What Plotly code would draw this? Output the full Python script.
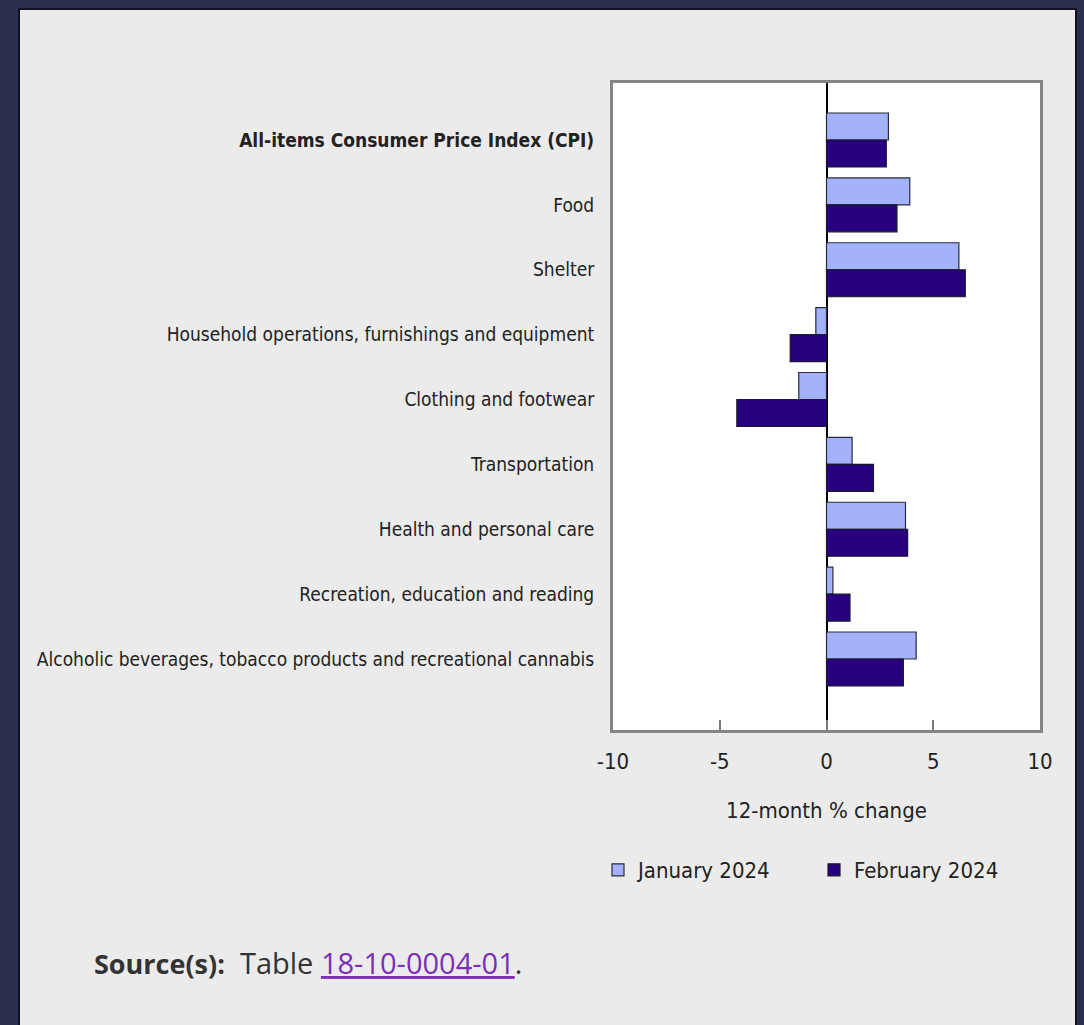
import plotly.graph_objects as go

categories = [
    "All-items Consumer Price Index (CPI)",
    "Food",
    "Shelter",
    "Household operations, furnishings and equipment",
    "Clothing and footwear",
    "Transportation",
    "Health and personal care",
    "Recreation, education and reading",
    "Alcoholic beverages, tobacco products and recreational cannabis",
]
tick_labels = ["<b>All-items Consumer Price Index (CPI)</b>"] + categories[1:]
jan_2024 = [2.9, 3.9, 6.2, -0.5, -1.3, 1.2, 3.7, 0.3, 4.2]
feb_2024 = [2.8, 3.3, 6.5, -1.7, -4.2, 2.2, 3.8, 1.1, 3.6]
x_ticks = [-10, -5, 0, 5, 10]

W, H = 1084, 1025
LABEL_FONT = "DejaVu Sans Condensed, DejaVu Sans, Verdana, sans-serif"
FS = 19
FS2 = 22

fig = go.Figure()
fig.add_trace(go.Bar(
    y=categories, x=jan_2024, orientation="h", name="January 2024",
    marker=dict(color="#a3b2fb", line=dict(color="#2b2b3b", width=1.2)),
))
fig.add_trace(go.Bar(
    y=categories, x=feb_2024, orientation="h", name="February 2024",
    marker=dict(color="#26007e", line=dict(color="#1a1a2a", width=1.2)),
))

# plot area in pixels
px_l, px_r, py_t, py_b = 613, 1040, 83, 730
cat_top, cat_bot = 140, 659
step = (cat_bot - cat_top) / 8
r_top = -(cat_top - py_t) / step
r_bot = 8 + (py_b - cat_bot) / step

fig.update_layout(
    width=W, height=H,
    margin=dict(l=0, r=0, t=0, b=0, autoexpand=False),
    paper_bgcolor="#2c2f4c",
    plot_bgcolor="white",
    barmode="group",
    bargap=0.168,
    bargroupgap=0,
    font=dict(family=LABEL_FONT, size=FS, color="#222222"),
    showlegend=True,
    legend=dict(
        orientation="h", x=598 / W, y=1 - 870 / H, xanchor="left", yanchor="middle",
        bgcolor="rgba(0,0,0,0)", font=dict(size=FS2, family=LABEL_FONT, color="#222222"),
        entrywidth=171, entrywidthmode="pixels", traceorder="normal",
    ),
    xaxis=dict(
        domain=[px_l / W, px_r / W],
        range=[-10, 10],
        tickvals=x_ticks,
        ticktext=[str(v) for v in x_ticks],
        ticks="inside", ticklen=10, tickwidth=2, tickcolor="#7a7a7a",
        showline=True, mirror=True, linecolor="#858585", linewidth=3,
        showgrid=False,
        zeroline=True, zerolinecolor="#000000", zerolinewidth=1.5,
        tickfont=dict(size=FS2, family=LABEL_FONT, color="#222222"),
        ticklabelstandoff=10,
        title=dict(text="12-month % change", standoff=30,
                   font=dict(size=FS2, family=LABEL_FONT, color="#222222")),
        automargin=False,
        fixedrange=True,
    ),
    yaxis=dict(
        domain=[1 - py_b / H, 1 - py_t / H],
        type="category",
        categoryorder="array", categoryarray=categories,
        tickvals=categories, ticktext=tick_labels,
        range=[r_bot, r_top],
        ticks="", showline=True, mirror=True, linecolor="#858585", linewidth=3,
        showgrid=False, zeroline=False,
        tickfont=dict(size=FS, family=LABEL_FONT, color="#222222"),
        ticklabelstandoff=12,
        automargin=False,
        fixedrange=True,
    ),
    shapes=[
        dict(type="rect", xref="paper", yref="paper", x0=18 / W, x1=1077 / W, y0=0, y1=1 - 8 / H,
             fillcolor="#111122", line=dict(width=0), layer="below"),
        dict(type="rect", xref="paper", yref="paper", x0=20 / W, x1=1075 / W, y0=0, y1=1 - 10 / H,
             fillcolor="#ebebeb", line=dict(width=0), layer="below"),
        dict(type="rect", xref="x domain", yref="y domain", x0=0, x1=1, y0=0, y1=1,
             fillcolor="white", line=dict(width=0), layer="below"),
    ],
    annotations=[
        dict(
            xref="paper", yref="paper", x=92 / W, y=1 - 962 / H, xanchor="left", yanchor="middle",
            showarrow=False,
            text="<b><span style='font-size:27px'>Source(s):</span></b>&nbsp;&nbsp;Table "
                 "<a href='https://www150.statcan.gc.ca/t1/tbl1/en/tv.action?pid=1810000401'>"
                 "<span style='color:#7a2fb8'><u>18-10-0004-01</u></span></a>.",
            font=dict(family="Open Sans, Noto Sans, sans-serif", size=29, color="#333333"),
        )
    ],
)

fig.write_html("out.html", config={"displayModeBar": False},
               post_script="document.body.style.margin='0';document.body.style.overflow='hidden';")
